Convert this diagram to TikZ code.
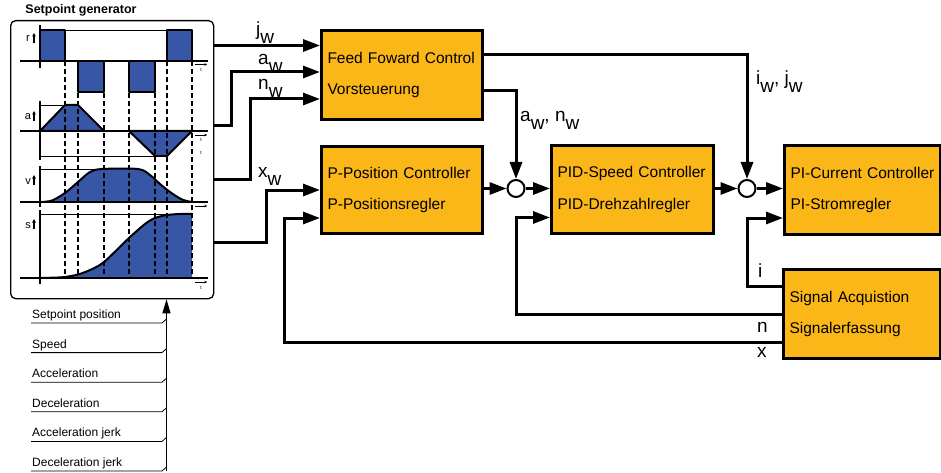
\documentclass[tikz,border=0pt]{standalone}
\usepackage{fontspec}
\setmainfont{Liberation Sans}
\usetikzlibrary{arrows.meta,calc}
\definecolor{sgblue}{RGB}{55,86,166}
\definecolor{boxorange}{RGB}{251,182,24}
\newcommand{\subw}{\raisebox{-0.38em}{w}}
\tikzset{
  block/.style={draw, line width=3pt, fill=boxorange, anchor=north west, inner ysep=0pt, inner xsep=6pt, align=left, font=\fontsize{15.5}{31.5}\selectfont},
  sumpt/.style={circle, draw, line width=2pt, fill=white, minimum size=17pt, inner sep=0pt},
  conn/.style={line width=3pt, -{Triangle[length=17pt,width=12pt]}},
  sig/.style={font=\fontsize{19}{19}\selectfont, inner sep=0pt, anchor=base west},
  axis/.style={line width=2.5pt},
  curveln/.style={line width=2pt, line join=round},
  guide/.style={line width=0.8pt},
  dashln/.style={line width=1.3pt, dash pattern=on 5pt off 3pt},
  tarrow/.style={line width=0.6pt, -{Stealth[length=2.5pt,width=2.5pt]}},
  tlabel/.style={font=\fontsize{5}{5}\selectfont, inner sep=0pt},
  plabel/.style={font=\fontsize{11}{11}\selectfont, inner sep=0pt, anchor=base},
  uparrow/.style={line width=1.1pt, -{Triangle[length=3.5pt,width=3.5pt]}},
  listtext/.style={font=\fontsize{12}{12}\selectfont, inner sep=0pt, anchor=base west},
  listline/.style={line width=0.8pt}
}
\begin{document}
\begin{tikzpicture}[x=1pt,y=-1pt]
\useasboundingbox (0,0) rectangle (941,473);

% ---------------- Setpoint generator ----------------
\node[font=\bfseries\fontsize{12.5}{12.5}\selectfont, anchor=base, inner sep=0pt] (gtitle) at (81,14) {Setpoint generator};
\node[draw, rounded corners=5pt, line width=1.3pt, minimum width=203pt, minimum height=278pt, anchor=north west, inner sep=0pt] (gen) at (10,20) {};

% r panel
\fill[sgblue] (40,30) rectangle (65,61) (167,30) rectangle (192,61) (78,61) rectangle (104,92) (129,61) rectangle (155,92);
\draw[curveln] (40,61) -- (40,30) -- (65,30) -- (65,61);
\draw[curveln] (167,61) -- (167,30) -- (192,30) -- (192,61);
\draw[curveln] (78,61) -- (78,92) -- (104,92) -- (104,61);
\draw[curveln] (129,61) -- (129,92) -- (155,92) -- (155,61);
\draw[guide] (65,30) -- (167,30);

% a panel
\filldraw[fill=sgblue, curveln] (40,131) -- (65,105) -- (78,105) -- (104,131) -- cycle;
\filldraw[fill=sgblue, curveln] (129,131) -- (155,156) -- (167,156) -- (192,131) -- cycle;
\draw[guide] (40,105) -- (65,105);
\draw[guide] (40,156) -- (155,156);

% v panel
\fill[sgblue] plot[smooth] coordinates {(41,202) (52,200.5) (65,193) (78,182) (90,172) (102,169) (138,169) (150,175) (160,184) (170,192) (182,199.5) (192,202)} -- cycle;
\draw[curveln] plot[smooth] coordinates {(41,202) (52,200.5) (65,193) (78,182) (90,172) (102,169) (138,169) (150,175) (160,184) (170,192) (182,199.5) (192,202)};
\draw[guide] (40,169) -- (102,169);

% s panel
\fill[sgblue] plot[smooth] coordinates {(41,278) (55,277.6) (65,277) (78,274.5) (90,270) (104,262) (129,238) (145,224) (155,218) (167,215) (180,214) (192,214)} -- (192,278) -- cycle;
\draw[curveln] plot[smooth] coordinates {(41,278) (55,277.6) (65,277) (78,274.5) (90,270) (104,262) (129,238) (145,224) (155,218) (167,215) (180,214) (192,214)};
\draw[guide] (40,214) -- (180,214);

% dashed guides
\foreach \x in {65,78,104,129,155,167,192}
  \draw[dashln] (\x,61) -- (\x,278);

% axes
\draw[axis] (20,61) -- (208,61);
\draw[axis] (20,131) -- (208,131);
\draw[axis] (20,202) -- (208,202);
\draw[axis] (20,278) -- (208,278);
\draw[axis] (40,25) -- (40,68);
\draw[axis] (40,101) -- (40,160);
\draw[axis] (40,166) -- (40,207);
\draw[axis] (40,210) -- (40,284);

% small time arrows
\draw[tarrow] (195,64.5) -- (207,64.5);
\node[tlabel] (t1) at (201,70) {t};
\draw[tarrow] (195,135) -- (207,135);
\node[tlabel] (t2) at (201,140) {t};
\node[tlabel] (t3) at (201,153) {t};
\draw[tarrow] (195,206) -- (207,206);
\draw[tarrow] (195,282) -- (207,282);
\node[tlabel] (t4) at (201,288) {t};

% panel letters
\node[plabel] (lr) at (28,42) {r};
\draw[uparrow] (34,43) -- (34,33);
\node[plabel] (la) at (28,120) {a};
\draw[uparrow] (34,121) -- (34,111);
\node[plabel] (lv) at (28,184) {v};
\draw[uparrow] (34,185) -- (34,175);
\node[plabel] (ls) at (28,228) {s};
\draw[uparrow] (34,229) -- (34,219);

% ---------------- Parameter list ----------------
\foreach \i/\t in {0/Setpoint position,1/Speed,2/Acceleration,3/Deceleration,4/Acceleration jerk,5/Deceleration jerk}{
  \pgfmathsetmacro{\yy}{323+29.6*\i}
  \node[listtext] (li\i) at (32,\yy-4.5) {\t};
  \draw[listline] (31,\yy) -- (162,\yy) -- (166.5,\yy-4);
}
\coordinate (lbot) at (166.5,471);
\draw[line width=1pt, -{Triangle[length=14pt,width=8pt]}] (lbot) -- (lbot |- gen.south);

% ---------------- Blocks ----------------
\node[block, minimum width=161pt, minimum height=89pt, text width=149pt] (ff) at (320,29) {Feed Foward Control\\Vorsteuerung};
\node[block, minimum width=161pt, minimum height=87pt, text width=149pt] (pp) at (320,145) {P-Position Controller\\P-Positionsregler};
\node[block, minimum width=162pt, minimum height=88pt, text width=150pt] (pid) at (550,144) {PID-Speed Controller\\PID-Drehzahlregler};
\node[block, minimum width=156pt, minimum height=89pt, text width=144pt] (pic) at (783,144) {PI-Current Controller\\PI-Stromregler};
\node[block, minimum width=157pt, minimum height=89pt, text width=145pt] (sig) at (782,268) {Signal Acquistion\\Signalerfassung};

\node[sumpt] (s1) at (516,188.5) {};
\node[sumpt] (s2) at (747,188.5) {};

% ---------------- Generator outputs ----------------
\coordinate (gj) at (213,45.5);
\coordinate (ga) at (213,126);
\coordinate (gn) at (213,179);
\coordinate (gx) at (213,242);
\coordinate (ffj) at ($(ff.north west)+(0,17)$);
\coordinate (ffa) at ($(ff.north west)+(0,43)$);
\coordinate (ffn) at ($(ff.north west)+(0,70)$);

\draw[conn] (gj) -- (gj -| ff.west);
\draw[conn] (ga) -| ($(ffa)+(-89,0)$) -- (ffa);
\draw[conn] (gn) -| ($(ffn)+(-70,0)$) -- (ffn);
\draw[conn] (gx) -| ($(pp.west)+(-54,0)$) -- (pp.west);

\node[sig] (lj) at (256,36) {j\subw};
\node[sig] (la2) at (258,65) {a\subw};
\node[sig] (ln2) at (258,90) {n\subw};
\node[sig] (lx2) at (258,178) {x\subw};

% ---------------- Forward paths ----------------
\draw[conn] ($(ff.north east)+(0,26)$) -| (s2);
\draw[conn] ($(ff.north east)+(0,62)$) -| (s1);
\node[sig] (lan) at (520,122) {a\subw, n\subw};
\node[sig] (lij) at (756,85) {i\subw, j\subw};

\draw[conn] (pp.east |- s1) -- (s1);
\draw[conn] (s1) -- (s1 -| pid.west);
\draw[conn] (pid.east |- s2) -- (s2);
\draw[conn] (s2) -- (s2 -| pic.west);

% ---------------- Feedback paths ----------------
\coordinate (fbi) at ($(pic.west)+(0,28)$);
\coordinate (fbn) at ($(pid.west)+(0,28)$);
\coordinate (fbx) at ($(pp.west)+(0,28)$);
\draw[conn] ($(sig.north west)+(0,18)$) -| (s2 |- fbi) -- (fbi);
\draw[conn] (sig.west) -| (s1 |- fbn) -- (fbn);
\draw[conn] ($(sig.south west)+(0,-18)$) -| ($(fbx)+(-36,0)$) -- (fbx);

\node[sig] (li) at (758,277) {i};
\node[sig] (ln) at (757,332) {n};
\node[sig] (lx) at (757,357) {x};
\end{tikzpicture}
\end{document}
